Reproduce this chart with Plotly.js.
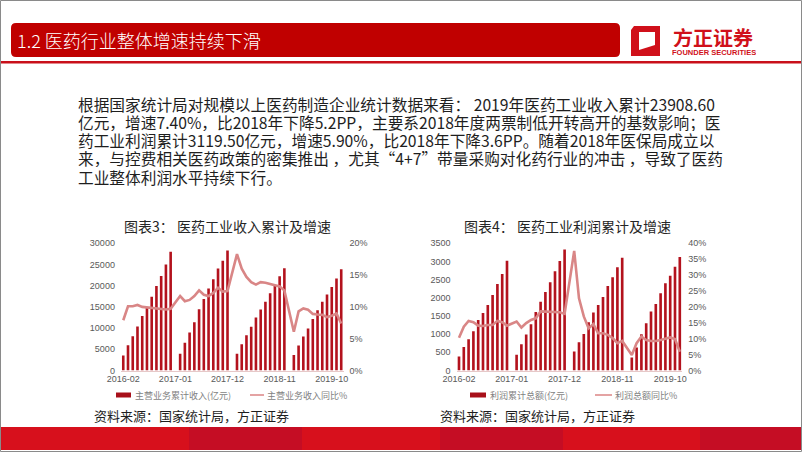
<!DOCTYPE html>
<html>
<head>
<meta charset="utf-8">
<script src="https://cdn.plot.ly/plotly-3.0.1.min.js"></script>
<style>
html,body{margin:0;padding:0;background:#fff;}
#chart{width:802px;height:452px;}
</style>
</head>
<body>
<div id="chart"></div>
<script>
// ---------- data ----------
const months = [
  "2016-02","2016-03","2016-04","2016-05","2016-06","2016-07","2016-08","2016-09","2016-10","2016-11","2016-12",
  "2017-01","2017-02","2017-03","2017-04","2017-05","2017-06","2017-07","2017-08","2017-09","2017-10","2017-11","2017-12",
  "2018-01","2018-02","2018-03","2018-04","2018-05","2018-06","2018-07","2018-08","2018-09","2018-10","2018-11","2018-12",
  "2019-01","2019-02","2019-03","2019-04","2019-05","2019-06","2019-07","2019-08","2019-09","2019-10","2019-11","2019-12"
];
const tickLabels = ["2016-02","2017-01","2017-12","2018-11","2019-10"];

// 主营业务累计收入(亿元)
const revenue = [
  3550,5950,8100,10350,12850,15000,17400,19900,22300,25000,28000,
  null,3950,6550,8950,11400,14450,16850,19350,21550,24050,25900,28300,
  null,3950,6200,8300,10300,12500,14400,16200,18200,20100,22250,24100,
  null,3650,5900,8000,9900,12150,14200,16200,17950,19700,21700,23909
];
// 主营业务收入同比%
const revenueYoY = [
  7.9,10.1,10.1,10.3,10.0,9.9,9.9,9.8,9.7,9.6,9.7,
  null,11.7,10.9,11.1,11.7,12.6,11.9,11.7,12.2,13.0,12.4,12.5,
  null,18.3,16.0,14.7,13.9,13.5,13.9,13.8,13.6,13.5,13.2,12.6,
  null,6.1,9.3,9.75,9.55,8.9,8.8,8.75,8.4,8.6,8.95,7.4
];
// 利润累计总额(亿元)
const profit = [
  385,650,861,1080,1392,1580,1804,2079,2377,2656,3018,
  null,430,723,994,1273,1612,1890,2160,2430,2729,3013,3330,
  null,522,778,1007,1328,1593,1804,2024,2326,2564,2839,3104,
  null,360,632,998,1300,1621,1832,2125,2399,2610,2857,3120
];
// 利润总额同比%
const profitYoY = [
  10.3,13.8,15.6,15.2,14.1,14.0,14.3,14.3,15.6,15.2,14.1,
  null,15.4,13.5,14.9,15.9,16.4,18.6,18.5,18.5,18.4,18.3,17.8,
  null,37.6,22.7,17.0,13.3,14.6,11.7,11.7,11.2,10.2,8.6,9.3,
  null,4.9,8.6,10.7,9.6,9.3,9.3,9.6,9.9,10.4,9.9,5.9
];

const headerTitle = "1.2 医药行业整体增速持续下滑";
const bodyLines = [
  "根据国家统计局对规模以上医药制造企业统计数据来看： 2019年医药工业收入累计23908.60",
  "亿元，增速7.40%，比2018年下降5.2PP，主要系2018年度两票制低开转高开的基数影响；医",
  "药工业利润累计3119.50亿元，增速5.90%，比2018年下降3.6PP。随着2018年医保局成立以",
  "来，与控费相关医药政策的密集推出 ，尤其“4+7”带量采购对化药行业的冲击 ，导致了医药",
  "工业整体利润水平持续下行。"
];
const chartTitles = ["图表3： 医药工业收入累计及增速","图表4： 医药工业利润累计及增速"];
const legendNames = ["主营业务累计收入(亿元)","主营业务收入同比%","利润累计总额(亿元)","利润总额同比%"];
const sourceText = "资料来源：国家统计局，方正证券";

// ---------- helpers ----------
const W = 802, H = 452;
const X = px => px / W;
const Y = py => 1 - py / H;
const CJK = '"Microsoft YaHei","Noto Sans CJK SC","Noto Sans",sans-serif';
const TICK = 'Arial,"Liberation Sans",sans-serif';

const barColor = '#b3121d';
const lineColor = '#d98686';

const traces = [
  {type:'bar', x:months, y:revenue, xaxis:'x', yaxis:'y', name:legendNames[0],
   marker:{color:barColor}},
  {type:'scatter', mode:'lines', x:months, y:revenueYoY, xaxis:'x', yaxis:'y2', name:legendNames[1],
   connectgaps:true, line:{color:lineColor, width:2.6}},
  {type:'bar', x:months, y:profit, xaxis:'x2', yaxis:'y3', name:legendNames[2],
   marker:{color:barColor}},
  {type:'scatter', mode:'lines', x:months, y:profitYoY, xaxis:'x2', yaxis:'y4', name:legendNames[3],
   connectgaps:true, line:{color:lineColor, width:2.6}}
];

const tickfont = {family:TICK, size:9, color:'#595959'};
const dom1 = [X(120.9), X(343.6)];
const dom2 = [X(456.6), X(682.2)];
const ydom = [Y(370.5), Y(243.3)];

function xAx(dom, anchor){
  return {domain:dom, anchor:anchor, type:'category', categoryorder:'array', categoryarray:months,
    range:[-0.5, months.length-0.5], tickmode:'array', tickvals:tickLabels, ticktext:tickLabels,
    ticks:'', showgrid:false, zeroline:false, showline:true, linecolor:'#e6c8c8', linewidth:1,
    tickfont:tickfont, fixedrange:true};
}
function yAx(dom, anchor, range, dtick, suffix, right){
  const a = {domain:dom, anchor:anchor, range:range, dtick:dtick, tick0:0, tickmode:'linear',
    showgrid:false, zeroline:false, showline:false, ticks:'', tickfont:tickfont,
    tickformat:'d', ticksuffix:suffix || '', fixedrange:true, ticklabelstandoff:5};
  if (right){ a.side='right'; }
  return a;
}

const layout = {
  width:W, height:H, margin:{l:0,r:0,t:0,b:0}, paper_bgcolor:'#ffffff', plot_bgcolor:'rgba(0,0,0,0)',
  showlegend:false, bargap:0.45,
  xaxis: xAx(dom1,'y'),
  yaxis: yAx(ydom,'x',[0,30000],5000),
  yaxis2: Object.assign(yAx(ydom,'x',[0,20],5,'%',true),{overlaying:'y'}),
  xaxis2: xAx(dom2,'y3'),
  yaxis3: yAx(ydom,'x2',[0,3500],500),
  yaxis4: Object.assign(yAx(ydom,'x2',[0,40],5,'%',true),{overlaying:'y3'}),
  shapes:[], annotations:[]
};

const S = layout.shapes, A = layout.annotations;
function rect(x0,y0,x1,y1,color,extra){
  S.push(Object.assign({type:'rect', xref:'paper', yref:'paper', x0:X(x0), x1:X(x1), y0:Y(y1), y1:Y(y0),
    fillcolor:color, line:{width:0}, layer:'below'}, extra||{}));
}
function poly(pts,color){
  const d = pts.map((p,i)=>(i?'L':'M')+X(p[0])+','+Y(p[1])).join(' ')+' Z';
  S.push({type:'path', xref:'paper', yref:'paper', path:d, fillcolor:color, line:{width:0}, layer:'above'});
}
function text(t,x,y,size,color,anchor,extra){
  A.push(Object.assign({text:t, xref:'paper', yref:'paper', x:X(x), y:Y(y), xanchor:anchor||'left', yanchor:'middle',
    showarrow:false, borderpad:0, font:{family:CJK, size:size, color:color}}, extra||{}));
}

// header bar (rounded)
(function(){
  const x0=11,x1=620,y0=23,y1=57,r=5;
  const d = `M${X(x0+r)},${Y(y0)} L${X(x1-r)},${Y(y0)} Q${X(x1)},${Y(y0)} ${X(x1)},${Y(y0+r)} `+
    `L${X(x1)},${Y(y1-r)} Q${X(x1)},${Y(y1)} ${X(x1-r)},${Y(y1)} L${X(x0+r)},${Y(y1)} `+
    `Q${X(x0)},${Y(y1)} ${X(x0)},${Y(y1-r)} L${X(x0)},${Y(y0+r)} Q${X(x0)},${Y(y0)} ${X(x0+r)},${Y(y0)} Z`;
  S.push({type:'path', xref:'paper', yref:'paper', path:d, fillcolor:'#c00000', line:{width:0}, layer:'below'});
})();
// line under header
rect(0,61,802,63.5,'#c9101a');
// logo icon
poly([[634,26],[660,26],[660,56],[631,56],[631,30]],'#d0101a');
poly([[639,32],[655,32],[655,50],[639,50]],'#ffffff');
poly([[639,50],[655,50],[655,45]],'#d0101a');
text('方正证券',713,36.5,20,'#d0101a','center',{height:20, font:{family:CJK,size:20,color:'#d0101a',weight:'bold'}});
text('FOUNDER SECURITIES',714,52.5,7.5,'#d0101a','center',{height:7, font:{family:'Arial,"Liberation Sans",sans-serif',size:7.5,color:'#d0101a',weight:'bold'}});
text(headerTitle,16,40.5,18,'#ffffff','left',{font:{family:'"Microsoft YaHei Light","Noto Sans CJK SC",sans-serif',size:18,color:'#ffffff',weight:300}});

// bottom band
const bandBlocks = [[0,189,'#d7101c'],[189,302,'#c50d24'],[302,440,'#d7101c'],[440,563,'#c50d24'],[563,700,'#d7101c'],[700,802,'#c50d24']];
bandBlocks.forEach(b=>rect(b[0],427,b[1],450,b[2]));
// slide frame
S.push({type:'rect', xref:'paper', yref:'paper', x0:X(0.5), x1:X(801.5), y0:Y(451.5), y1:Y(0.5),
  fillcolor:'rgba(0,0,0,0)', line:{color:'#8a8a8a', width:1}, layer:'above'});

// body paragraph
const lineY = [104,122.3,140.6,158.9,177.2];
bodyLines.forEach((t,i)=>text(t,77,lineY[i],15.7,'#1e1e1e','left',{height:17}));

// chart titles
text(chartTitles[0],227.5,226,14,'#262626','center');
text(chartTitles[1],567.5,226,14,'#262626','center');

// legends
rect(116,392.5,131,397.5,'#a8101a',{layer:'above'});
text(legendNames[0],133.5,395,9,'#7f7f7f','left');
S.push({type:'line', xref:'paper', yref:'paper', x0:X(250), x1:X(264), y0:Y(395), y1:Y(395), line:{color:'#e4a3a3', width:2}});
text(legendNames[1],266,395,9,'#7f7f7f','left');
rect(470,392.5,486,397.5,'#a8101a',{layer:'above'});
text(legendNames[2],489,395,9,'#7f7f7f','left');
S.push({type:'line', xref:'paper', yref:'paper', x0:X(595), x1:X(612), y0:Y(395), y1:Y(395), line:{color:'#e4a3a3', width:2}});
text(legendNames[3],614,395,9,'#7f7f7f','left');

// sources
text(sourceText,93,415,13,'#1e1e1e','left');
text(sourceText,438.5,415,13,'#1e1e1e','left');

Plotly.newPlot('chart', traces, layout, {staticPlot:true, displayModeBar:false});
</script>
</body>
</html>
